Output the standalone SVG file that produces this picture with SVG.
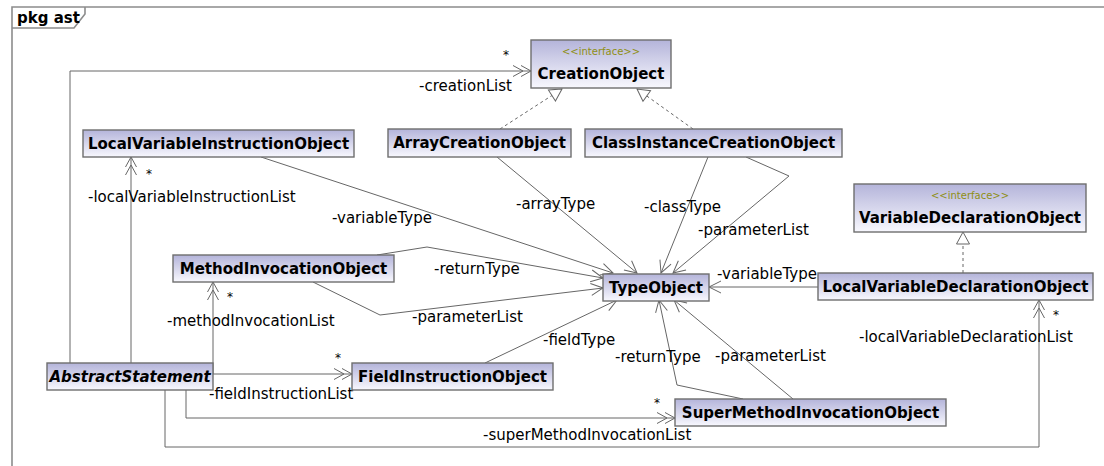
<svg xmlns="http://www.w3.org/2000/svg" width="1104" height="466" viewBox="0 0 1104 466">
<style>
.frame{fill:none;stroke:#8c8c8c;stroke-width:1.6}
.box{fill:url(#g);stroke:#6e6e6e;stroke-width:1.4}
.nm{font-family:"DejaVu Sans",sans-serif;font-weight:bold;font-size:15px;fill:#000;text-anchor:middle}
.it{font-style:italic}
.st{font-family:"DejaVu Sans",sans-serif;font-size:10px;fill:#8f8f14;text-anchor:middle}
.lb{font-family:"DejaVu Sans",sans-serif;font-size:15px;fill:#000}
.star{font-family:"DejaVu Sans",sans-serif;font-size:12px;fill:#000;text-anchor:middle}
.c{fill:none;stroke:#666;stroke-width:1}
.a2{marker-end:url(#dbl)}
.a1{marker-end:url(#sgl)}
.gen{fill:none;stroke:#666;stroke-width:1;stroke-dasharray:3,3;marker-end:url(#tri)}
</style>
<defs>
<linearGradient id="g" x1="0" y1="0" x2="0" y2="1">
<stop offset="0" stop-color="#b4b4da"/>
<stop offset="1" stop-color="#f8f8fe"/>
</linearGradient>
<marker id="dbl" markerUnits="userSpaceOnUse" viewBox="-22 -8 24 16" refX="0" refY="0" markerWidth="24" markerHeight="16" orient="auto" overflow="visible">
<path d="M-10,-5.5 L0,0 L-10,5.5 M-18,-5.5 L-8,0 L-18,5.5" fill="none" stroke="#666" stroke-width="1"/>
</marker>
<marker id="sgl" markerUnits="userSpaceOnUse" viewBox="-14 -8 16 16" refX="0" refY="0" markerWidth="16" markerHeight="16" orient="auto" overflow="visible">
<path d="M-12,-6 L0,0 L-12,6" fill="none" stroke="#666" stroke-width="1"/>
</marker>
<marker id="tri" markerUnits="userSpaceOnUse" viewBox="-14 -8 16 16" refX="0" refY="0" markerWidth="16" markerHeight="16" orient="auto" overflow="visible">
<path d="M0,0 L-12,-6.5 L-12,6.5 Z" fill="#fff" stroke="#666" stroke-width="1"/>
</marker>
</defs>
<rect width="1104" height="466" fill="#fff"/>
<g id="frame">
<path class="frame" d="M12,480 L12,7 L1110,7"/>
<path class="frame" d="M12,28 L74,28 L85,14 L85,7"/>
<text x="17" y="23" class="nm" style="text-anchor:start">pkg ast</text>
</g>
<g id="connectors">
<polyline class="c a2" points="70,363 70,71 531,71"/>
<polyline class="c a2" points="131,363 131,157"/>
<polyline class="c a2" points="213,374 213,282"/>
<polyline class="c a2" points="213,374 352,374"/>
<polyline class="c a2" points="186,390 186,418 675,418"/>
<polyline class="c a2" points="165,390 165,447 1039,447 1039,300"/>
<polyline class="c a1" points="261,157 613,273"/>
<polyline class="c a1" points="377,255 427,247 603,278"/>
<polyline class="c a1" points="313,282 380,315 603,288"/>
<polyline class="c a1" points="497,157 637,273"/>
<polyline class="c a1" points="708,157 661,273"/>
<polyline class="c a1" points="746,157 789,176 673,273"/>
<polyline class="c a1" points="818,287 709,287"/>
<polyline class="c a1" points="485,363 617,300"/>
<polyline class="c a1" points="743,399 677,385 659,300"/>
<polyline class="c a1" points="793,399 674,300"/>
<polyline class="gen" points="500,129 562,89"/>
<polyline class="gen" points="693,129 637,89"/>
<polyline class="gen" points="963,273 963,232"/>
<text class="star" x="506" y="59">*</text>
<text class="lb" x="419" y="91">-creationList</text>
<text class="star" x="149" y="178">*</text>
<text class="lb" x="88" y="202">-localVariableInstructionList</text>
<text class="lb" x="332" y="223">-variableType</text>
<text class="lb" x="516" y="209">-arrayType</text>
<text class="lb" x="644" y="212">-classType</text>
<text class="lb" x="698" y="235">-parameterList</text>
<text class="lb" x="434" y="274">-returnType</text>
<text class="lb" x="717" y="279">-variableType</text>
<text class="star" x="230" y="301">*</text>
<text class="lb" x="167" y="326">-methodInvocationList</text>
<text class="lb" x="412" y="322">-parameterList</text>
<text class="lb" x="543" y="345">-fieldType</text>
<text class="lb" x="615" y="362">-returnType</text>
<text class="lb" x="715" y="361">-parameterList</text>
<text class="lb" x="859" y="342">-localVariableDeclarationList</text>
<text class="star" x="1056" y="319">*</text>
<text class="star" x="338" y="362">*</text>
<text class="lb" x="209" y="399">-fieldInstructionList</text>
<text class="star" x="657" y="407">*</text>
<text class="lb" x="483" y="440">-superMethodInvocationList</text>
</g>
<g id="CreationObject">
<rect class="box" x="531" y="40" width="140" height="48"/>
<text class="st" x="601" y="55">&lt;&lt;interface&gt;&gt;</text>
<text class="nm" x="601" y="79">CreationObject</text>
</g>
<g id="LocalVariableInstructionObject">
<rect class="box" x="83" y="130" width="271" height="27"/>
<text class="nm" x="218.5" y="149">LocalVariableInstructionObject</text>
</g>
<g id="ArrayCreationObject">
<rect class="box" x="388" y="129" width="183" height="28"/>
<text class="nm" x="479.5" y="148">ArrayCreationObject</text>
</g>
<g id="ClassInstanceCreationObject">
<rect class="box" x="585" y="129" width="257" height="28"/>
<text class="nm" x="713.5" y="148">ClassInstanceCreationObject</text>
</g>
<g id="VariableDeclarationObject">
<rect class="box" x="854" y="184" width="232" height="48"/>
<text class="st" x="970" y="199">&lt;&lt;interface&gt;&gt;</text>
<text class="nm" x="970" y="223">VariableDeclarationObject</text>
</g>
<g id="MethodInvocationObject">
<rect class="box" x="173" y="255" width="221" height="27"/>
<text class="nm" x="283.5" y="274">MethodInvocationObject</text>
</g>
<g id="TypeObject">
<rect class="box" x="603" y="274" width="106" height="27"/>
<text class="nm" x="656" y="293">TypeObject</text>
</g>
<g id="LocalVariableDeclarationObject">
<rect class="box" x="818" y="273" width="275" height="27"/>
<text class="nm" x="955.5" y="292">LocalVariableDeclarationObject</text>
</g>
<g id="AbstractStatement">
<rect class="box" x="47" y="363" width="166" height="27"/>
<text class="nm it" x="130" y="382">AbstractStatement</text>
</g>
<g id="FieldInstructionObject">
<rect class="box" x="352" y="363" width="201" height="27"/>
<text class="nm" x="452.5" y="382">FieldInstructionObject</text>
</g>
<g id="SuperMethodInvocationObject">
<rect class="box" x="675" y="399" width="271" height="27"/>
<text class="nm" x="810.5" y="418">SuperMethodInvocationObject</text>
</g>
</svg>
